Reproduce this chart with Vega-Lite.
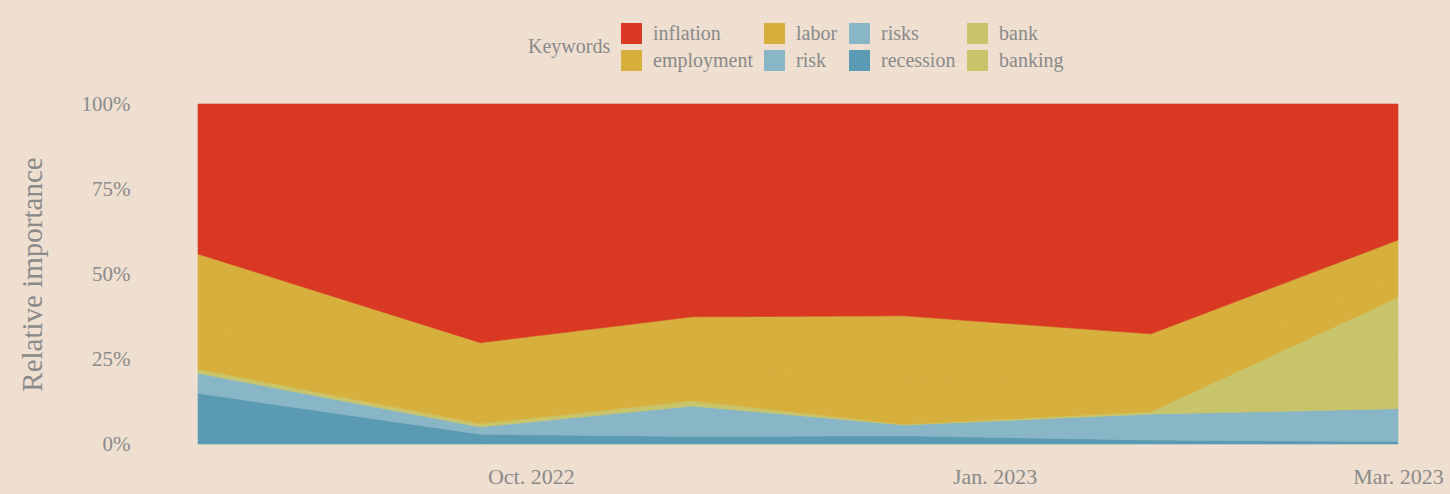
{
  "$schema": "https://vega.github.io/schema/vega-lite/v6.json",
  "width": 1200,
  "height": 340,
  "autosize": {"type": "none"},
  "padding": {"left": 198, "top": 104, "right": 52, "bottom": 50},
  "background": "#EEDFD0",
  "config": {
    "view": {"stroke": null},
    "font": "Liberation Serif"
  },
  "data": {
    "values": [
      {"date": "2022-07-27", "keyword": "recession", "value": 14.9},
      {"date": "2022-07-27", "keyword": "risk", "value": 3.5},
      {"date": "2022-07-27", "keyword": "risks", "value": 2.4},
      {"date": "2022-07-27", "keyword": "banking", "value": 0.6},
      {"date": "2022-07-27", "keyword": "bank", "value": 0.6},
      {"date": "2022-07-27", "keyword": "employment", "value": 13.6},
      {"date": "2022-07-27", "keyword": "labor", "value": 20.3},
      {"date": "2022-07-27", "keyword": "inflation", "value": 44.1},
      {"date": "2022-09-21", "keyword": "recession", "value": 2.9},
      {"date": "2022-09-21", "keyword": "risk", "value": 1.2},
      {"date": "2022-09-21", "keyword": "risks", "value": 0.9},
      {"date": "2022-09-21", "keyword": "banking", "value": 0.5},
      {"date": "2022-09-21", "keyword": "bank", "value": 0.5},
      {"date": "2022-09-21", "keyword": "employment", "value": 9.5},
      {"date": "2022-09-21", "keyword": "labor", "value": 14.3},
      {"date": "2022-09-21", "keyword": "inflation", "value": 70.2},
      {"date": "2022-11-02", "keyword": "recession", "value": 2.2},
      {"date": "2022-11-02", "keyword": "risk", "value": 5.4},
      {"date": "2022-11-02", "keyword": "risks", "value": 3.6},
      {"date": "2022-11-02", "keyword": "banking", "value": 0.7},
      {"date": "2022-11-02", "keyword": "bank", "value": 0.8},
      {"date": "2022-11-02", "keyword": "employment", "value": 9.9},
      {"date": "2022-11-02", "keyword": "labor", "value": 14.8},
      {"date": "2022-11-02", "keyword": "inflation", "value": 62.6},
      {"date": "2022-12-14", "keyword": "recession", "value": 2.4},
      {"date": "2022-12-14", "keyword": "risk", "value": 1.9},
      {"date": "2022-12-14", "keyword": "risks", "value": 1.3},
      {"date": "2022-12-14", "keyword": "banking", "value": 0.1},
      {"date": "2022-12-14", "keyword": "bank", "value": 0.1},
      {"date": "2022-12-14", "keyword": "employment", "value": 12.8},
      {"date": "2022-12-14", "keyword": "labor", "value": 19.1},
      {"date": "2022-12-14", "keyword": "inflation", "value": 62.3},
      {"date": "2023-02-01", "keyword": "recession", "value": 1.2},
      {"date": "2023-02-01", "keyword": "risk", "value": 4.6},
      {"date": "2023-02-01", "keyword": "risks", "value": 3.0},
      {"date": "2023-02-01", "keyword": "banking", "value": 0.3},
      {"date": "2023-02-01", "keyword": "bank", "value": 0.4},
      {"date": "2023-02-01", "keyword": "employment", "value": 9.2},
      {"date": "2023-02-01", "keyword": "labor", "value": 13.7},
      {"date": "2023-02-01", "keyword": "inflation", "value": 67.6},
      {"date": "2023-03-22", "keyword": "recession", "value": 0.7},
      {"date": "2023-03-22", "keyword": "risk", "value": 3.2},
      {"date": "2023-03-22", "keyword": "risks", "value": 6.5},
      {"date": "2023-03-22", "keyword": "banking", "value": 16.3},
      {"date": "2023-03-22", "keyword": "bank", "value": 16.4},
      {"date": "2023-03-22", "keyword": "employment", "value": 6.8},
      {"date": "2023-03-22", "keyword": "labor", "value": 10.1},
      {"date": "2023-03-22", "keyword": "inflation", "value": 40.0}
    ]
  },
  "transform": [
    {"calculate": "indexof(['recession','risk','risks','banking','bank','employment','labor','inflation'], datum.keyword)", "as": "stackRank"}
  ],
  "mark": {"type": "area", "interpolate": "linear", "opacity": 1, "strokeWidth": 0.6, "strokeJoin": "round"},
  "encoding": {
    "x": {
      "field": "date",
      "type": "temporal",
      "scale": {"type": "utc", "nice": false},
      "axis": {
        "title": null,
        "values": [
          {"year": 2022, "month": 10, "date": 1, "utc": true},
          {"year": 2023, "month": 1, "date": 1, "utc": true},
          {"year": 2023, "month": 3, "date": 22, "utc": true}
        ],
        "format": "%b. %Y",
        "ticks": false,
        "domain": false,
        "grid": false,
        "labelFlush": false,
        "labelOverlap": false,
        "labelFontSize": 22,
        "labelColor": "#8a8a8a",
        "labelPadding": 22
      }
    },
    "y": {
      "field": "value",
      "type": "quantitative",
      "stack": "normalize",
      "scale": {"domain": [0, 1], "nice": false},
      "axis": {
        "title": "Relative importance",
        "titleFontSize": 29,
        "titleFontWeight": "normal",
        "titleColor": "#8a8a8a",
        "titlePadding": 34,
        "values": [0, 0.25, 0.5, 0.75, 1],
        "format": ".0%",
        "ticks": false,
        "domain": false,
        "grid": false,
        "labelFontSize": 21,
        "labelColor": "#8a8a8a",
        "labelPadding": 68
      }
    },
    "color": {
      "field": "keyword",
      "type": "nominal",
      "scale": {
        "domain": ["inflation", "labor", "risks", "bank", "employment", "risk", "recession", "banking"],
        "range": ["#D93822", "#D7AF3C", "#88B6C6", "#C8C46A", "#D7AF3C", "#88B6C6", "#5A9AB2", "#C8C46A"]
      },
      "legend": {
        "title": "Keywords",
        "orient": "none",
        "legendX": 330,
        "legendY": -81,
        "direction": "horizontal",
        "columns": 4,
        "titleOrient": "left",
        "titleAnchor": "middle",
        "titleBaseline": "middle",
        "titleFontSize": 20,
        "titleFontWeight": "normal",
        "titleColor": "#8a8a8a",
        "titlePadding": 10,
        "labelFontSize": 20,
        "labelColor": "#8a8a8a",
        "labelOffset": 11,
        "labelLimit": 400,
        "columnPadding": 11,
        "rowPadding": 6,
        "padding": 0,
        "symbolType": "square",
        "symbolSize": 441,
        "symbolStrokeWidth": 0,
        "symbolOpacity": 1
      }
    },
    "stroke": {
      "field": "keyword",
      "type": "nominal",
      "scale": {
        "domain": ["inflation", "labor", "risks", "bank", "employment", "risk", "recession", "banking"],
        "range": ["#D93822", "#D7AF3C", "#88B6C6", "#C8C46A", "#D7AF3C", "#88B6C6", "#5A9AB2", "#C8C46A"]
      },
      "legend": null
    },
    "order": {"field": "stackRank", "type": "quantitative"}
  }
}
